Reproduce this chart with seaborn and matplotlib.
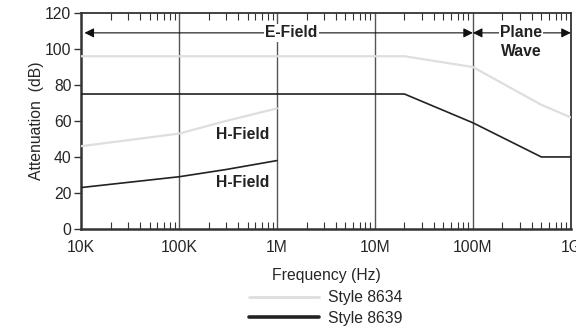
import numpy as np
import pandas as pd
import matplotlib
matplotlib.use("Agg")
import matplotlib.pyplot as plt
import matplotlib.ticker as mticker
import seaborn as sns

# values
freq_e = [1e4, 2e7, 1e8, 5e8, 1e9]
att_8634_e = [96, 96, 90, 69, 62]
att_8639_e = [75, 75, 59, 40, 40]

freq_h = [1e4, 1e5, 3e5, 1e6]
att_8634_h = [46, 53, 60, 67]
att_8639_h = [23, 29, 33, 38]

tick_freqs = [1e4, 1e5, 1e6, 1e7, 1e8, 1e9]
tick_labels = ["10K", "100K", "1M", "10M", "100M", "1G"]
y_ticks = [0, 20, 40, 60, 80, 100, 120]

light = "#dedede"
dark = "#222222"
fs = 11.3

sns.set_style("white")
plt.rcParams["font.family"] = ["Liberation Sans", "DejaVu Sans"]
plt.rcParams["font.size"] = fs

fig = plt.figure(figsize=(5.76, 3.27), dpi=100)
ax = fig.add_axes([0.141, 0.300, 0.850, 0.660])

# decade grid lines
for f in tick_freqs[1:-1]:
    ax.axvline(f, color="#555555", lw=1.0, zorder=1)

sns.lineplot(x=freq_e, y=att_8634_e, ax=ax, color=light, lw=1.6, zorder=3)
sns.lineplot(x=freq_h, y=att_8634_h, ax=ax, color=light, lw=1.6, zorder=3)
sns.lineplot(x=freq_e, y=att_8639_e, ax=ax, color=dark, lw=1.2, zorder=3)
sns.lineplot(x=freq_h, y=att_8639_h, ax=ax, color=dark, lw=1.2, zorder=3)

ax.set_xscale("log")
ax.set_xlim(1e4, 1e9)
ax.set_ylim(0, 120)
ax.set_xticks(tick_freqs)
ax.set_xticklabels(tick_labels)
ax.set_yticks(y_ticks)
ax.xaxis.set_minor_locator(mticker.LogLocator(base=10, subs=np.arange(2, 10)))
ax.xaxis.set_minor_formatter(mticker.NullFormatter())
ax.tick_params(axis="x", which="major", length=0, pad=8)
ax.tick_params(axis="x", which="minor", direction="in", length=5, width=0.8,
               top=True, bottom=True, color="#333333")
ax.tick_params(axis="y", which="major", direction="out", length=5, width=1,
               left=True, pad=2, color="#333333")

for side, w in [("left", 1.8), ("bottom", 1.8), ("top", 1.3), ("right", 1.3)]:
    ax.spines[side].set_visible(True)
    ax.spines[side].set_linewidth(w)
    ax.spines[side].set_color("#333333")

ax.set_xlabel("Frequency (Hz)", labelpad=9)
ax.set_ylabel("Attenuation  (dB)", labelpad=1)

# E-Field / Plane Wave arrows
arrow_kw = dict(arrowstyle="<|-|>", color="#111111", lw=0.8, mutation_scale=14,
                shrinkA=0, shrinkB=0)
ax.annotate("", xy=(1.08e4, 109), xytext=(1e8, 109),
            arrowprops=dict(arrow_kw), zorder=4)
ax.annotate("", xy=(1e8, 109), xytext=(1e9, 109),
            arrowprops=dict(arrow_kw), zorder=4)
ax.text(1.4e6, 109, "E-Field", ha="center", va="center", fontweight="bold",
        color="#222222",
        bbox=dict(facecolor="white", edgecolor="none", pad=1), zorder=5)
ax.text(3.1e8, 109, "Plane", ha="center", va="center", fontweight="bold",
        color="#222222",
        bbox=dict(facecolor="white", edgecolor="none", pad=0.5), zorder=5)
ax.text(3.1e8, 98.5, "Wave", ha="center", va="center", fontweight="bold",
        color="#222222", zorder=5)

ax.text(4.5e5, 52.5, "H-Field", ha="center", va="center", fontweight="bold",
        color="#222222")
ax.text(4.5e5, 26, "H-Field", ha="center", va="center", fontweight="bold",
        color="#222222")

# legend below the plot
handles = [plt.Line2D([], [], color=light, lw=2.0),
           plt.Line2D([], [], color=dark, lw=2.6)]
fig.legend(handles, ["Style 8634", "Style 8639"], loc="center",
           bbox_to_anchor=(0.565, 0.058), frameon=False, handlelength=4.5,
           handletextpad=0.55, labelspacing=0.35, fontsize=fs)

fig.savefig("out.png", dpi=100)
